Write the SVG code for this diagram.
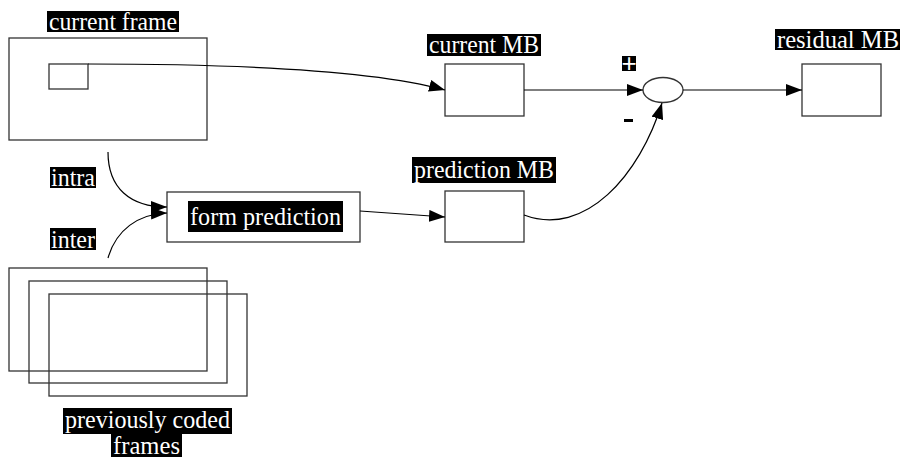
<svg xmlns="http://www.w3.org/2000/svg" width="900" height="459" viewBox="0 0 900 459">
<defs>
<marker id="ah" markerWidth="16" markerHeight="12" refX="16" refY="6" orient="auto" markerUnits="userSpaceOnUse">
<path d="M0,0 L16,6 L0,12 Z" fill="#000"/>
</marker>
<style>
.box{fill:#fff;stroke:#333;stroke-width:1.3}
.fr{fill:none;stroke:#333;stroke-width:1.3}
.lb{fill:#000}
.lt{fill:#fff;font-size:25px;font-family:'Liberation Serif','DejaVu Serif','Noto Serif',serif}
.cn{fill:none;stroke:#000;stroke-width:1.2}
</style>
</defs>
<rect width="900" height="459" fill="#fff"/>
<g id="current-frame">
<rect class="fr" x="9" y="38" width="198" height="102"/>
<rect class="fr" x="49" y="64" width="39" height="25"/>
<rect class="lb" x="47" y="11" width="132" height="21"/>
<text class="lt" x="49" y="30" textLength="128" lengthAdjust="spacingAndGlyphs">current frame</text>
</g>
<g id="current-mb">
<rect class="box" x="445" y="64" width="79" height="52"/>
<rect class="lb" x="427" y="34" width="114" height="22"/>
<text class="lt" x="429" y="53" textLength="110" lengthAdjust="spacingAndGlyphs">current MB</text>
</g>
<g id="sum">
<ellipse class="box" cx="663" cy="90" rx="20" ry="12.5"/>
<rect class="lb" x="622" y="56" width="14" height="15"/>
<text x="629" y="71.5" text-anchor="middle" fill="#fff" font-family="Liberation Sans, Arial, sans-serif" font-size="26">+</text>
<rect class="lb" x="624" y="119" width="9" height="3"/>
<text x="628.5" y="124" text-anchor="middle" fill="#000" font-family="Liberation Sans, Arial, sans-serif" font-size="11">-</text>
</g>
<g id="residual-mb">
<rect class="box" x="802" y="64" width="79" height="52"/>
<rect class="lb" x="775" y="29" width="125" height="21"/>
<text class="lt" x="777" y="48" textLength="122" lengthAdjust="spacingAndGlyphs">residual MB</text>
</g>
<g id="prediction-mb">
<rect class="box" x="445" y="191" width="79" height="51"/>
<rect class="lb" x="412" y="157" width="144" height="26"/>
<text class="lt" x="414" y="178" textLength="140" lengthAdjust="spacingAndGlyphs">prediction MB</text>
</g>
<g id="form-prediction">
<rect class="box" x="167" y="192" width="193" height="50"/>
<rect class="lb" x="188" y="201" width="155" height="31"/>
<text class="lt" x="190" y="225" textLength="151" lengthAdjust="spacingAndGlyphs">form prediction</text>
</g>
<g id="intra-label">
<rect class="lb" x="50" y="167" width="46" height="21"/>
<text class="lt" x="51" y="186" textLength="44" lengthAdjust="spacingAndGlyphs">intra</text>
</g>
<g id="inter-label">
<rect class="lb" x="50" y="228" width="46" height="22"/>
<text class="lt" x="51" y="248" textLength="44" lengthAdjust="spacingAndGlyphs">inter</text>
</g>
<g id="previous-frames">
<rect class="fr" x="9" y="268" width="198" height="103"/>
<rect class="fr" x="29" y="281" width="198" height="102"/>
<rect class="fr" x="49" y="294" width="198" height="102"/>
<rect class="lb" x="63" y="408" width="169" height="26"/>
<text class="lt" x="65" y="428" textLength="165" lengthAdjust="spacingAndGlyphs">previously coded</text>
<rect class="lb" x="111" y="434" width="71" height="23"/>
<text class="lt" x="113" y="454" textLength="67" lengthAdjust="spacingAndGlyphs">frames</text>
</g>
<g id="connectors">
<path class="cn" d="M88,64 C250,64 380,72 445,90" marker-end="url(#ah)"/>
<path class="cn" d="M524,90 L643,90" marker-end="url(#ah)"/>
<path class="cn" d="M683,90 L802,90" marker-end="url(#ah)"/>
<path class="cn" d="M360,211 L445,217" marker-end="url(#ah)"/>
<path class="cn" d="M524,215 C585,238 640,175 662,103" marker-end="url(#ah)"/>
<path class="cn" d="M108,152 C108,188 130,207 167,207" marker-end="url(#ah)"/>
<path class="cn" d="M108,258 C116,230 138,214 167,213" marker-end="url(#ah)"/>
</g>
</svg>
